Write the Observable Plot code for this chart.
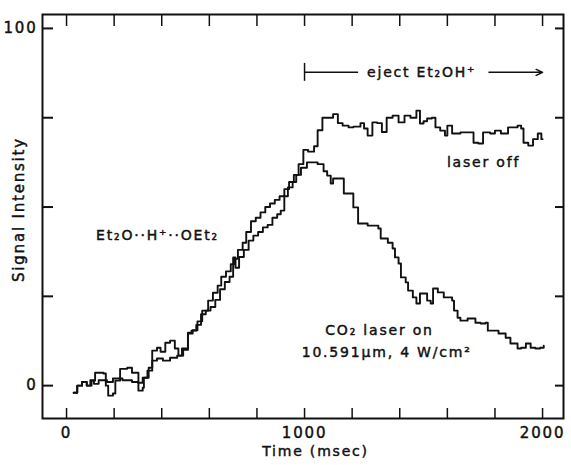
<!DOCTYPE html>
<html>
<head>
<meta charset="utf-8">
<script src="https://cdn.jsdelivr.net/npm/d3@7"></script>
<script src="https://cdn.jsdelivr.net/npm/@observablehq/plot@0.6"></script>
<style>
  html, body { margin: 0; padding: 0; background: #fff; }
  #chart { width: 571px; height: 465px; }
  #chart svg text { letter-spacing: 1.8px; stroke: #111; stroke-width: 0.45px; }
</style>
</head>
<body>
<div id="chart"></div>
<script>
// Laser off trace (time in msec, signal intensity)
const timeOff = [30,45,65,85,100,115,135,170,195,235,275,300,320,340,360,380,405,435,465,485,510,530,550,570,595,615,635,650,670,690,705,720,740,755,775,795,815,835,855,875,895,915,935,955,975,995,1015,1040,1055,1075,1100,1120,1140,1160,1185,1205,1235,1250,1265,1285,1305,1325,1345,1370,1395,1420,1445,1470,1485,1500,1515,1535,1550,1570,1590,1600,1620,1640,1655,1690,1710,1730,1750,1780,1800,1825,1855,1895,1910,1920,1940,1960,1980,1995,2000];
const signalOff = [-2,0,1,0,1.5,0.5,1.5,1,2,1.5,1,0.8,2.2,4.2,7,7.6,7,7.8,8.4,10.4,14.6,15.5,18,21,23.8,26,28,30.5,32,34,35.5,38,40,43,46,47,48.5,50,51,52,53,55,57,59,62,66,65.5,67,71.5,75,75,76,73.5,72.8,72.3,72.5,73.5,72,70,73.7,73.5,71,75,75.6,73.7,75.6,75,77,73.4,74,74.8,75,72.3,71.4,70,72.8,70.6,70.6,70.9,70.9,68,67.8,70.9,70.6,71.4,70.6,72.3,72.8,72,68,67.2,69,70.6,69,69];

// CO2 laser on trace
const timeOn = [30,45,65,85,105,120,155,165,175,195,205,225,255,275,298,302,320,325,345,360,380,395,415,435,455,470,490,510,525,545,565,585,605,625,645,665,685,700,710,725,745,765,785,805,825,845,865,885,900,915,930,950,965,985,1010,1055,1080,1095,1110,1120,1150,1165,1190,1205,1225,1265,1310,1320,1350,1370,1380,1395,1405,1425,1435,1455,1470,1485,1500,1515,1530,1540,1560,1585,1620,1628,1643,1655,1685,1718,1740,1760,1770,1795,1815,1845,1865,1895,1910,1930,1950,1970,1990,2005];
const signalOn = [-2,0,1,0,1.4,3.6,3.4,0,-2.8,-2.2,1.4,4.7,5,3.6,3.6,-1.4,-0.6,2.2,5,9.8,10.6,9.5,12,12.6,10.4,8.4,10,14.8,15.4,17,20,21,22,24,27,29,30.5,35.9,33,36,38,40.6,42,43,44.3,45,47,48,49,53,55.5,57,59,61,62.5,62,60,58.8,56.6,58,58,53.8,53.8,49.9,45.4,44.8,44,41.2,40,38.4,35.9,34.2,30.3,28.9,26.6,24.7,23,25.8,25.8,23.8,23,27.2,26.1,24.7,23.8,21,19,18.2,18.8,17.6,17.4,17.6,15.4,15.4,14.6,13.4,11.8,10.4,10.6,11.8,10.6,10.4,10.6,11.2];

// Axis ticks and labels
const xTicks = [0,200,400,600,800,1000,1200,1400,1600,1800,2000];
const xTickLabels = [0,1000,2000];
const yTicks = [0,25,50,75,100];
const yTickLabels = [0,100];
const xTitle = "Time (msec)";
const yTitle = "Signal Intensity";

// Annotations
const annotationTexts = ["laser off", "Et\u2082O\u00B7\u00B7H\u207A\u00B7\u00B7OEt\u2082", "CO\u2082 laser on", "10.591\u00B5m, 4 W/cm\u00B2"];
const annotationX = [1752, 382, 1315, 1345];
const annotationY = [62.5, 42, 15.4, 9.2];
const ejectText = "eject Et\u2082OH\u207A";
const ejectStart = 1000, ejectEnd = 2000, ejectLevel = 87.7;

const offData = timeOff.map((t, i) => ({t, v: signalOff[i]}));
const onData = timeOn.map((t, i) => ({t, v: signalOn[i]}));
const annotations = annotationTexts.map((text, i) => ({text, x: annotationX[i], y: annotationY[i]}));

const W = 571, H = 465;
const mL = 42, mR = 8, mT = 14, mB = 47;
const fw = W - mL - mR, fh = H - mT - mB;
const ink = "#111";
const font = "DejaVu Sans";

const chart = Plot.plot({
  width: W,
  height: H,
  marginLeft: mL,
  marginRight: mR,
  marginTop: mT,
  marginBottom: mB,
  style: {fontFamily: font, fontSize: "15px", color: ink, background: "#fff"},
  x: {domain: [-101, 2088], label: null},
  y: {domain: [-9.2, 103.9], label: null},
  marks: [
    Plot.frame({stroke: ink, strokeWidth: 2}),
    // inward ticks
    Plot.ruleX(xTicks, {stroke: ink, strokeWidth: 1.5, insetTop: fh - 10}),
    Plot.ruleX(xTicks, {stroke: ink, strokeWidth: 1.5, insetBottom: fh - 12}),
    Plot.ruleY(yTicks, {stroke: ink, strokeWidth: 2, insetRight: fw - 11}),
    Plot.ruleY(yTicks, {stroke: ink, strokeWidth: 2, insetLeft: fw - 8}),
    Plot.axisX(xTickLabels, {tickSize: 0, tickPadding: 9, fontSize: 15, tickFormat: d => `${d}`}),
    Plot.axisY(yTickLabels, {tickSize: 0, tickPadding: 5, fontSize: 15, tickFormat: d => `${d}`}),
    Plot.text([xTitle], {x: () => 1046, frameAnchor: "bottom", dy: 37, fontSize: 14, fill: ink}),
    Plot.text([yTitle], {x: () => -197, y: () => 49.3, rotate: -90, fontSize: 15, fill: ink}),
    // traces
    Plot.line(offData, {x: "t", y: "v", curve: "step-after", stroke: ink, strokeWidth: 1.9}),
    Plot.line(onData, {x: "t", y: "v", curve: "step-after", stroke: ink, strokeWidth: 1.9}),
    // annotations
    Plot.text(annotations, {x: "x", y: "y", text: "text", fontSize: 14, fill: ink}),
    Plot.ruleX([ejectStart], {y1: ejectLevel - 2.5, y2: ejectLevel + 2.5, stroke: ink, strokeWidth: 1.5}),
    Plot.link([{a: ejectStart, b: 1225}], {x1: "a", x2: "b", y1: () => ejectLevel, y2: () => ejectLevel, stroke: ink, strokeWidth: 1.5}),
    Plot.arrow([{a: 1775, b: ejectEnd}], {x1: "a", x2: "b", y1: () => ejectLevel, y2: () => ejectLevel, stroke: ink, strokeWidth: 1.5, headLength: 7, headAngle: 50}),
    Plot.text([ejectText], {x: () => 1492, y: () => ejectLevel, fontSize: 14, fill: ink})
  ]
});
document.getElementById("chart").appendChild(chart);
</script>
</body>
</html>
